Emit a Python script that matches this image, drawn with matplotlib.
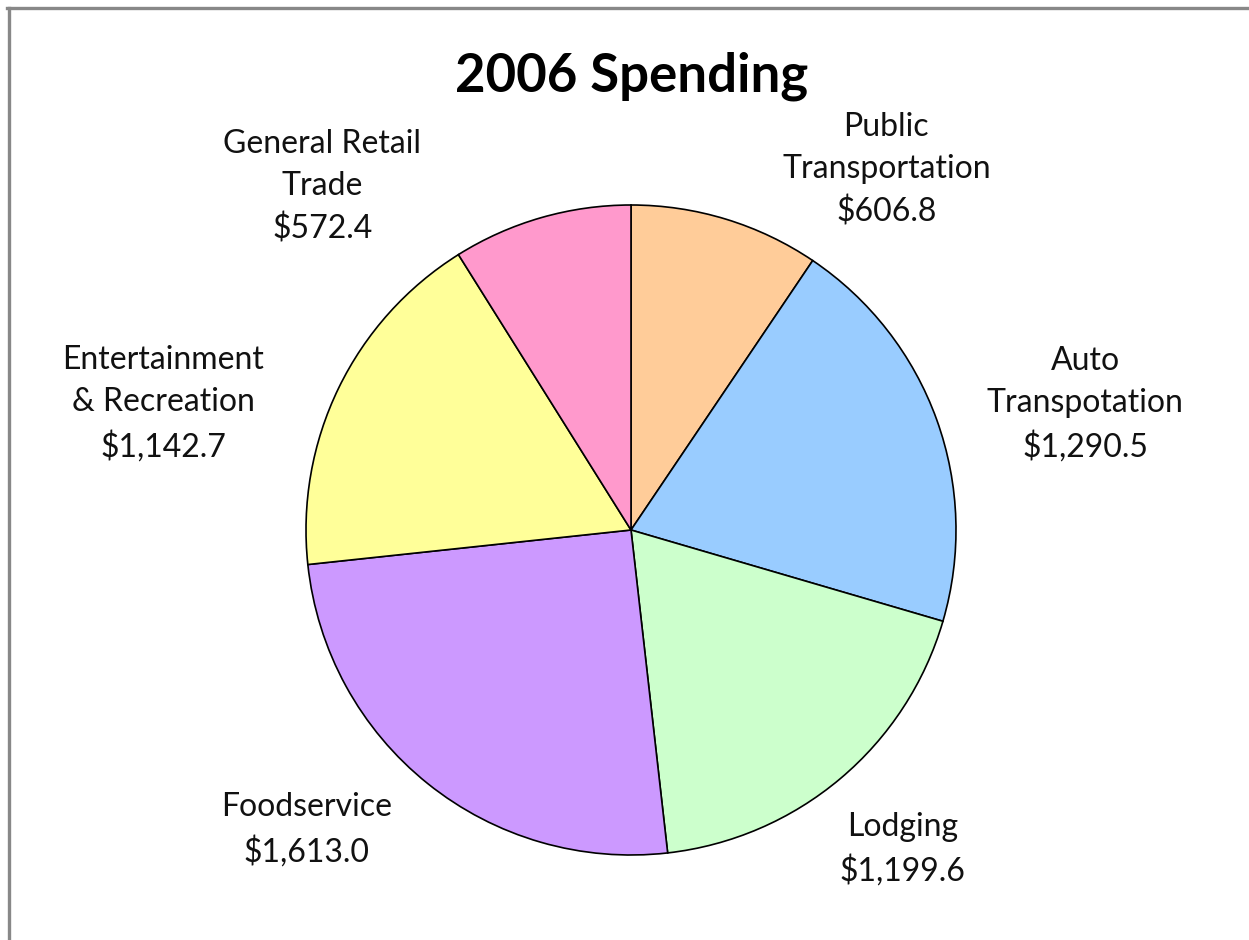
import numpy as np
import matplotlib
matplotlib.use("Agg")
import matplotlib.pyplot as plt
from matplotlib.lines import Line2D

# ---- data ----
categories = ["Public\nTransportation", "Auto\nTranspotation", "Lodging",
              "Foodservice", "Entertainment\n& Recreation", "General Retail\nTrade"]
values = [606.8, 1290.5, 1199.6, 1613.0, 1142.7, 572.4]
title = "2006 Spending"

# ---- style / layout ----
colors = ["#FFCC99", "#99CCFF", "#CCFFCC", "#CC99FF", "#FFFF99", "#FF99CC"]
label_angles = [54.7, 15.5, -49.6, -137.3, 164.9, 132.0]   # degrees
label_radii = [1.36, 1.45, 1.29, 1.36, 1.49, 1.42]

W, H = 1249, 940
fig = plt.figure(figsize=(W / 100, H / 100), dpi=100)
font = "Lato"

cx, cy, R = 631, 530, 325
ax = fig.add_axes([(cx - R) / W, (H - cy - R) / H, 2 * R / W, 2 * R / H])
wedges, _ = ax.pie(values, colors=colors, startangle=90, counterclock=False,
                   radius=1.0,
                   wedgeprops=dict(edgecolor="black", linewidth=1.2))
ax.set_xlim(-1, 1)
ax.set_ylim(-1, 1)
ax.set_aspect("equal")
ax.axis("off")

for cat, val, ang, r in zip(categories, values, label_angles, label_radii):
    a = np.deg2rad(ang)
    ax.text(r * np.cos(a), r * np.sin(a), f"{cat}\n${val:,.1f}",
            ha="center", va="center", fontsize=23, family=font,
            color="#111111", linespacing=1.5, clip_on=False)

fig.text(632 / W, 1 - 76 / H, title, ha="center", va="center",
         fontsize=38, fontweight="bold", family=font, color="black")

# chart border (cut off at right and bottom)
fig.add_artist(Line2D([7 / W, 1], [1 - 7.5 / H, 1 - 7.5 / H],
                      transform=fig.transFigure, color="#888888", linewidth=2.4))
fig.add_artist(Line2D([9 / W, 9 / W], [0, 1 - 7.5 / H],
                      transform=fig.transFigure, color="#888888", linewidth=2.4))

fig.savefig("out.png", dpi=100, facecolor="white")
